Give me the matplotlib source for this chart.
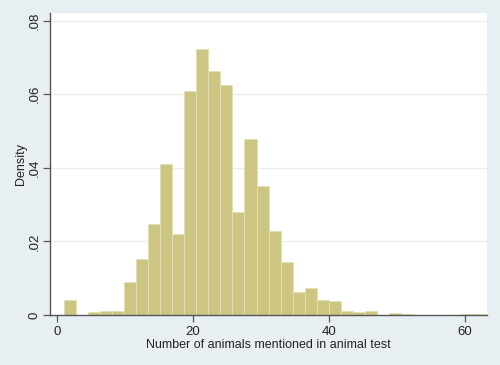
#!/usr/bin/env python3

import matplotlib

matplotlib.use("Agg")
import matplotlib.pyplot as plt
import numpy as np

OUT_PATH = "out.png"

# histogram: 35 bins spanning 1..63
BIN_START = 1.0
BIN_STOP = 63.0
DENSITY = [
    0.0041, 0.0, 0.0009, 0.0012, 0.0012, 0.0090, 0.0151, 0.0247, 0.0410,
    0.0220, 0.0609, 0.0722, 0.0662, 0.0624, 0.0280, 0.0477, 0.0351, 0.0228,
    0.0144, 0.0063, 0.0072, 0.0040, 0.0037, 0.0010, 0.0009, 0.0010, 0.0,
    0.0005, 0.0002, 0.0, 0.0, 0.0, 0.0, 0.0003, 0.0003,
]
X_TICKS = [0, 20, 40, 60]
Y_TICKS = [0, 0.02, 0.04, 0.06, 0.08]
Y_TICK_LABELS = ["0", ".02", ".04", ".06", ".08"]

BG = "#e8eff2"
BAR_COLOR = "#cdc683"
BAR_EDGE = "#e4e0b6"
AXIS_COLOR = "#555555"

plt.rcParams["font.family"] = ["Liberation Sans", "DejaVu Sans"]


def main() -> int:
    edges = np.linspace(BIN_START, BIN_STOP, len(DENSITY) + 1)
    widths = np.diff(edges)

    fig = plt.figure(figsize=(5.0, 3.65), dpi=100, facecolor=BG)
    ax = fig.add_axes([0.1, 0.137, 0.874, 0.827])
    ax.set_facecolor("white")

    for y in Y_TICKS[1:]:
        ax.axhline(y, color="#ececec", linewidth=0.8, zorder=0)

    ax.bar(edges[:-1], DENSITY, width=widths, align="edge", color=BAR_COLOR,
           edgecolor=BAR_EDGE, linewidth=0.7, zorder=2)

    ax.set_xlim(-1.0, 63.2)
    ax.set_ylim(0, 0.082)
    ax.set_xticks(X_TICKS)
    ax.set_yticks(Y_TICKS)
    ax.set_yticklabels(Y_TICK_LABELS, rotation=90, va="center")

    for side in ("top", "right"):
        ax.spines[side].set_visible(False)
    for side in ("left", "bottom"):
        ax.spines[side].set_color(AXIS_COLOR)
        ax.spines[side].set_linewidth(1.0)
    ax.tick_params(axis="both", direction="out", length=5, width=0.9,
                   color=AXIS_COLOR, labelsize=9.5, labelcolor="#222222", pad=3)
    ax.tick_params(axis="y", pad=2)

    ax.set_xlabel("Number of animals mentioned in animal test", fontsize=9,
                  color="#222222", labelpad=1)
    ax.set_ylabel("Density", fontsize=9, color="#222222", labelpad=1)

    fig.savefig(OUT_PATH, dpi=100, facecolor=BG)
    plt.close(fig)
    return 0


if __name__ == "__main__":
    raise SystemExit(main())
